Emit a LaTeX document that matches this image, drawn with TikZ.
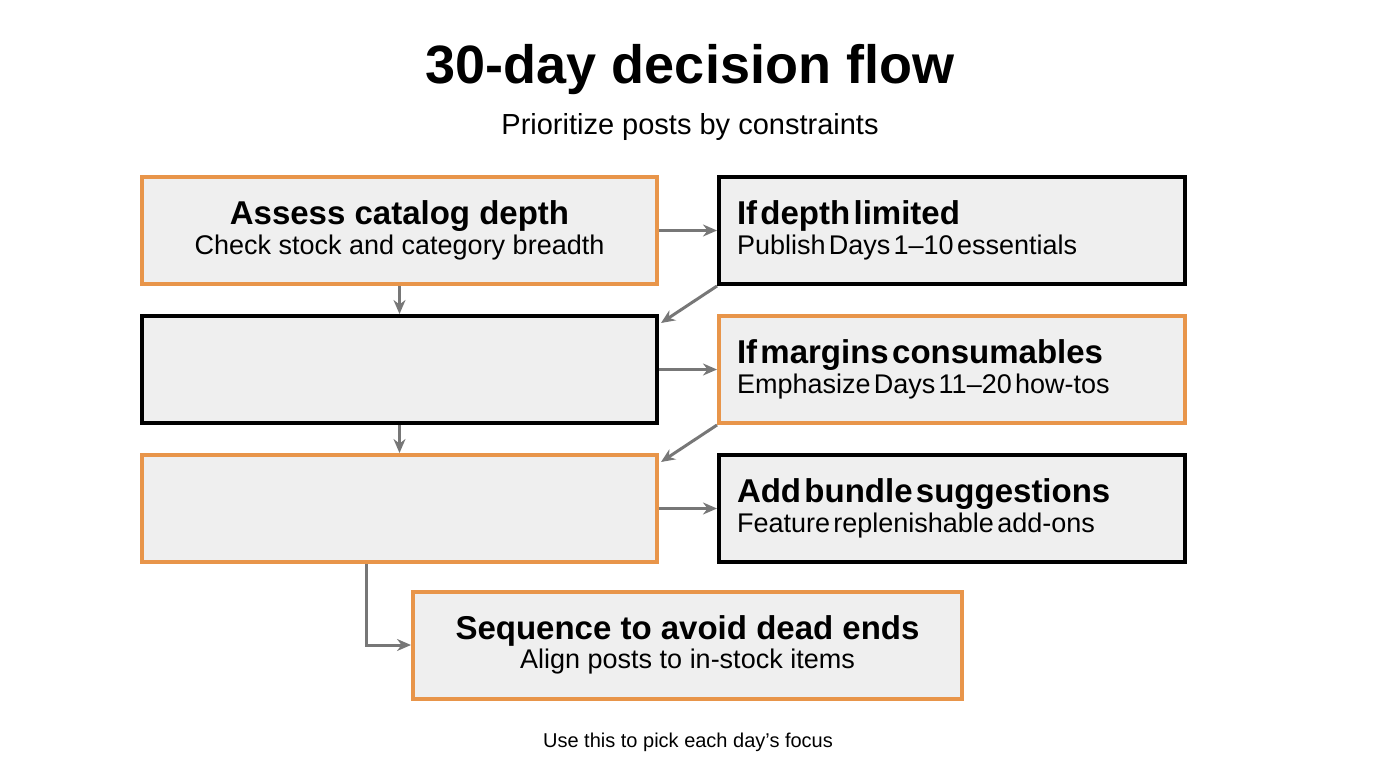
\documentclass[tikz,border=0pt]{standalone}
\usepackage{fontspec}
\setmainfont{Liberation Sans}
\usetikzlibrary{calc,arrows.meta}
\definecolor{boxorange}{HTML}{E8954A}
\definecolor{boxfill}{HTML}{EFEFEF}
\definecolor{linkgray}{HTML}{777777}
\tikzset{
  box/.style={draw=#1, fill=boxfill, line width=4pt, minimum width=515pt, minimum height=107pt, align=center, inner sep=0pt},
  sidebox/.style={box=#1, minimum width=466pt, text width=430pt, align=left},
  link/.style={draw=linkgray, line width=3pt, -{Stealth[length=14pt,width=12pt]}},
}
\newcommand{\boxtext}[2]{{\fontsize{33}{38}\selectfont\bfseries #1}\\[2pt]{\fontsize{27}{32}\selectfont #2}}
\begin{document}
\begin{tikzpicture}[x=1pt,y=-1pt]
  \useasboundingbox (0,0) rectangle (1376,768);
  \node (title) at (690,70) {\fontsize{54}{60}\selectfont\bfseries 30-day decision flow};
  \node (subtitle) at (690,127) {\fontsize{29}{34}\selectfont Prioritize posts by constraints};

  \node[box=boxorange] (assess) at (399.5,230.5) {\boxtext{Assess catalog depth}{Check stock and category breadth}};
  \node[sidebox=black] (depth) at (952,230.5) {\boxtext{If depth limited}{Publish Days 1--10 essentials}};
  \node[box=black] (middle) at (399.5,369.5) {};
  \node[sidebox=boxorange] (margins) at (952,369.5) {\boxtext{If margins consumables}{Emphasize Days 11--20 how-tos}};
  \node[box=boxorange] (lower) at (399.5,508.5) {};
  \node[sidebox=black] (bundle) at (952,508.5) {\boxtext{Add bundle suggestions}{Feature replenishable add-ons}};
  \node[box=boxorange, minimum width=549pt] (sequence) at (687.5,645) {\boxtext{Sequence to avoid dead ends}{Align posts to in-stock items}};

  \node (footer) at (688,742) {\fontsize{20}{24}\selectfont Use this to pick each day’s focus};

  % connectors
  \draw[link] (assess.east) -- (depth.west);
  \draw[link] (assess.south) -- (middle.north);
  \draw[link] (depth.south west) -- ($(middle.north east)+(2,9)$);
  \draw[link] (middle.east) -- (margins.west);
  \draw[link] (middle.south) -- (lower.north);
  \draw[link] (margins.south west) -- ($(lower.north east)+(2,9)$);
  \draw[link] (lower.east) -- (bundle.west);
  \draw[link] ([xshift=226pt]lower.south west) |- (sequence.west);
\end{tikzpicture}
\end{document}
